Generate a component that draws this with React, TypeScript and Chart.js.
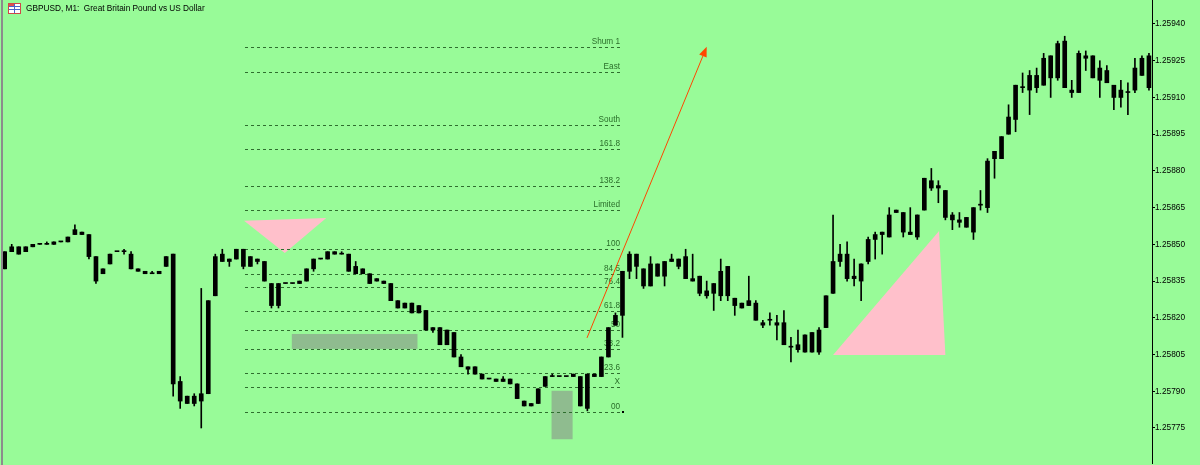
import React, { useEffect, useRef } from 'react';
import { Chart, registerables } from 'chart.js';

Chart.register(...registerables);

const title = 'GBPUSD, M1:  Great Britain Pound vs US Dollar';

const open = [
  1.25840, 1.25847, 1.25849, 1.25847, 1.25849, 1.25850, 1.25850, 1.25850, 1.25851, 1.25851,
  1.25854, 1.25855, 1.25854, 1.25845, 1.25838, 1.25842, 1.25847, 1.25847, 1.25846, 1.25840,
  1.25839, 1.25838, 1.25838, 1.25841, 1.25846, 1.25794, 1.25788, 1.25785, 1.25789, 1.25789,
  1.25829, 1.25843, 1.25844, 1.25844, 1.25848, 1.25841, 1.25844, 1.25843, 1.25834, 1.25825,
  1.25834, 1.25834, 1.25834, 1.25835, 1.25840, 1.25844, 1.25844, 1.25846, 1.25846, 1.25846,
  1.25841, 1.25838, 1.25838, 1.25835, 1.25835, 1.25834, 1.25827, 1.25824, 1.25826, 1.25822,
  1.25823, 1.25815, 1.25816, 1.25809, 1.25814, 1.25804, 1.25800, 1.25800, 1.25797, 1.25795,
  1.25795, 1.25794, 1.25795, 1.25793, 1.25786, 1.25784, 1.25785, 1.25792, 1.25796, 1.25796,
  1.25796, 1.25796, 1.25796, 1.25783, 1.25797, 1.25796, 1.25804, 1.25817, 1.25821, 1.25839,
  1.25846, 1.25840, 1.25833, 1.25842, 1.25837, 1.25843, 1.25844, 1.25845, 1.25836, 1.25837,
  1.25829, 1.25830, 1.25829, 1.25841, 1.25828, 1.25826, 1.25825, 1.25826, 1.25818, 1.25819,
  1.25818, 1.25818, 1.25808, 1.25809, 1.25806, 1.25814, 1.25806, 1.25816, 1.25830, 1.25843,
  1.25846, 1.25836, 1.25835, 1.25843, 1.25852, 1.25854, 1.25853, 1.25863, 1.25863, 1.25855,
  1.25853, 1.25864, 1.25876, 1.25873, 1.25872, 1.25862, 1.25860, 1.25861, 1.25855, 1.25866,
  1.25865, 1.25885, 1.25885, 1.25895, 1.25901, 1.25914, 1.25913, 1.25919, 1.25915, 1.25927,
  1.25918, 1.25933, 1.25913, 1.25912, 1.25927, 1.25927, 1.25922, 1.25916, 1.25915, 1.25910,
  1.25912, 1.25913, 1.25919, 1.25927,
];

const high = [
  1.25847, 1.25850, 1.25849, 1.25849, 1.25850, 1.25850, 1.25851, 1.25851, 1.25851, 1.25853,
  1.25858, 1.25855, 1.25854, 1.25845, 1.25840, 1.25846, 1.25847, 1.25848, 1.25847, 1.25840,
  1.25839, 1.25839, 1.25839, 1.25845, 1.25846, 1.25796, 1.25788, 1.25789, 1.25832, 1.25827,
  1.25846, 1.25848, 1.25844, 1.25848, 1.25848, 1.25845, 1.25844, 1.25843, 1.25834, 1.25834,
  1.25834, 1.25834, 1.25835, 1.25840, 1.25844, 1.25844, 1.25847, 1.25847, 1.25847, 1.25846,
  1.25843, 1.25840, 1.25838, 1.25836, 1.25835, 1.25834, 1.25827, 1.25826, 1.25826, 1.25825,
  1.25823, 1.25816, 1.25816, 1.25815, 1.25814, 1.25805, 1.25800, 1.25800, 1.25797, 1.25795,
  1.25795, 1.25796, 1.25795, 1.25793, 1.25786, 1.25785, 1.25791, 1.25796, 1.25797, 1.25796,
  1.25796, 1.25797, 1.25796, 1.25797, 1.25797, 1.25804, 1.25816, 1.25822, 1.25839, 1.25847,
  1.25846, 1.25840, 1.25845, 1.25842, 1.25843, 1.25846, 1.25844, 1.25848, 1.25846, 1.25837,
  1.25835, 1.25834, 1.25844, 1.25841, 1.25828, 1.25826, 1.25837, 1.25827, 1.25819, 1.25822,
  1.25821, 1.25823, 1.25812, 1.25815, 1.25813, 1.25814, 1.25816, 1.25829, 1.25862, 1.25850,
  1.25851, 1.25844, 1.25842, 1.25853, 1.25855, 1.25855, 1.25865, 1.25864, 1.25863, 1.25865,
  1.25862, 1.25877, 1.25881, 1.25876, 1.25872, 1.25863, 1.25863, 1.25861, 1.25865, 1.25872,
  1.25885, 1.25888, 1.25894, 1.25907, 1.25915, 1.25920, 1.25921, 1.25922, 1.25928, 1.25927,
  1.25933, 1.25935, 1.25917, 1.25929, 1.25929, 1.25927, 1.25925, 1.25923, 1.25915, 1.25917,
  1.25916, 1.25926, 1.25927, 1.25928,
];

const low = [
  1.25840, 1.25847, 1.25846, 1.25847, 1.25849, 1.25850, 1.25850, 1.25850, 1.25851, 1.25851,
  1.25854, 1.25854, 1.25844, 1.25834, 1.25838, 1.25842, 1.25847, 1.25846, 1.25840, 1.25839,
  1.25838, 1.25838, 1.25838, 1.25841, 1.25788, 1.25783, 1.25785, 1.25784, 1.25775, 1.25789,
  1.25829, 1.25843, 1.25841, 1.25844, 1.25840, 1.25841, 1.25842, 1.25835, 1.25824, 1.25824,
  1.25834, 1.25834, 1.25834, 1.25835, 1.25839, 1.25844, 1.25844, 1.25846, 1.25846, 1.25839,
  1.25838, 1.25838, 1.25834, 1.25835, 1.25834, 1.25827, 1.25824, 1.25824, 1.25822, 1.25822,
  1.25815, 1.25814, 1.25809, 1.25809, 1.25804, 1.25800, 1.25797, 1.25797, 1.25795, 1.25795,
  1.25794, 1.25794, 1.25793, 1.25787, 1.25784, 1.25784, 1.25785, 1.25792, 1.25796, 1.25796,
  1.25796, 1.25796, 1.25784, 1.25782, 1.25796, 1.25796, 1.25804, 1.25817, 1.25812, 1.25836,
  1.25836, 1.25832, 1.25833, 1.25837, 1.25833, 1.25843, 1.25840, 1.25836, 1.25835, 1.25829,
  1.25828, 1.25823, 1.25827, 1.25827, 1.25821, 1.25824, 1.25825, 1.25819, 1.25816, 1.25817,
  1.25811, 1.25809, 1.25802, 1.25806, 1.25806, 1.25806, 1.25805, 1.25816, 1.25830, 1.25841,
  1.25835, 1.25833, 1.25827, 1.25842, 1.25844, 1.25846, 1.25853, 1.25863, 1.25853, 1.25854,
  1.25852, 1.25864, 1.25872, 1.25867, 1.25860, 1.25856, 1.25857, 1.25857, 1.25852, 1.25864,
  1.25863, 1.25877, 1.25885, 1.25895, 1.25896, 1.25912, 1.25903, 1.25912, 1.25915, 1.25910,
  1.25917, 1.25914, 1.25910, 1.25912, 1.25921, 1.25918, 1.25910, 1.25916, 1.25905, 1.25906,
  1.25903, 1.25912, 1.25919, 1.25913,
];

const close = [
  1.25847, 1.25849, 1.25846, 1.25849, 1.25850, 1.25850, 1.25850, 1.25851, 1.25851, 1.25853,
  1.25856, 1.25854, 1.25845, 1.25835, 1.25840, 1.25846, 1.25847, 1.25847, 1.25840, 1.25839,
  1.25838, 1.25838, 1.25839, 1.25845, 1.25793, 1.25786, 1.25785, 1.25788, 1.25786, 1.25827,
  1.25845, 1.25846, 1.25843, 1.25848, 1.25841, 1.25845, 1.25843, 1.25835, 1.25825, 1.25834,
  1.25834, 1.25834, 1.25835, 1.25840, 1.25844, 1.25844, 1.25847, 1.25847, 1.25846, 1.25839,
  1.25838, 1.25840, 1.25834, 1.25836, 1.25834, 1.25827, 1.25824, 1.25826, 1.25822, 1.25825,
  1.25815, 1.25816, 1.25809, 1.25815, 1.25804, 1.25800, 1.25799, 1.25797, 1.25795, 1.25795,
  1.25794, 1.25795, 1.25793, 1.25787, 1.25784, 1.25785, 1.25791, 1.25796, 1.25796, 1.25796,
  1.25796, 1.25797, 1.25784, 1.25797, 1.25796, 1.25804, 1.25816, 1.25821, 1.25839, 1.25846,
  1.25841, 1.25833, 1.25842, 1.25837, 1.25843, 1.25844, 1.25841, 1.25836, 1.25835, 1.25830,
  1.25831, 1.25834, 1.25839, 1.25829, 1.25825, 1.25824, 1.25827, 1.25819, 1.25817, 1.25819,
  1.25817, 1.25809, 1.25808, 1.25807, 1.25813, 1.25806, 1.25815, 1.25829, 1.25843, 1.25846,
  1.25836, 1.25837, 1.25842, 1.25852, 1.25854, 1.25855, 1.25862, 1.25864, 1.25855, 1.25854,
  1.25862, 1.25877, 1.25873, 1.25874, 1.25861, 1.25860, 1.25859, 1.25857, 1.25865, 1.25866,
  1.25884, 1.25888, 1.25894, 1.25902, 1.25915, 1.25914, 1.25919, 1.25914, 1.25926, 1.25918,
  1.25932, 1.25914, 1.25912, 1.25928, 1.25926, 1.25918, 1.25917, 1.25921, 1.25910, 1.25913,
  1.25912, 1.25922, 1.25926, 1.25914,
];

const priceTicks = [
  1.25775, 1.2579, 1.25805, 1.2582, 1.25835, 1.2585,
  1.25865, 1.2588, 1.25895, 1.2591, 1.25925, 1.2594,
];

const fibLabels = [
  'Shum 1', 'East', 'South', '161.8', '138.2', 'Limited', '100',
  '84.5', '76.4', '61.8', '50', '38.2', '23.6', 'X', '00',
];
const fibPrices = [
  1.259306, 1.259204, 1.258988, 1.258889, 1.258738, 1.25864, 1.258481,
  1.258379, 1.258324, 1.258228, 1.258152, 1.258073, 1.257976, 1.257919, 1.257817,
];
const fibBars = [34.2, 87.9];

const pinkTriangles = [
  [[34.1, 1.258596], [45.8, 1.258608], [39.9, 1.258465]],
  [[118.0, 1.258048], [133.1, 1.258555], [134.0, 1.258048]],
];
const grayRects = [
  [40.9, 58.8, 1.258134, 1.258073],
  [77.9, 80.9, 1.257902, 1.257704],
];
const arrowPoints = [[82.95, 1.258118], [100.0, 1.259307]];

const BG = '#98fb98';

const overlayPlugin = {
  id: 'mtOverlay',
  beforeDatasetsDraw(chart: any) {
    const { ctx, chartArea: a, scales } = chart;
    const x = scales.x, y = scales.y;
    ctx.save();
    ctx.beginPath();
    ctx.rect(a.left, a.top, a.right - a.left, a.bottom - a.top);
    ctx.clip();
    ctx.fillStyle = '#8fbc8f';
    grayRects.forEach(([b0, b1, p0, p1]) => {
      const x0 = x.getPixelForValue(b0), x1 = x.getPixelForValue(b1);
      const y0 = y.getPixelForValue(p0), y1 = y.getPixelForValue(p1);
      ctx.fillRect(x0, y0, x1 - x0, y1 - y0);
    });
    ctx.fillStyle = '#ffc0cb';
    pinkTriangles.forEach((tri) => {
      ctx.beginPath();
      tri.forEach(([b, p], i) => {
        const px = x.getPixelForValue(b), py = y.getPixelForValue(p);
        if (i === 0) ctx.moveTo(px, py); else ctx.lineTo(px, py);
      });
      ctx.closePath();
      ctx.fill();
    });
    const xs = Math.round(x.getPixelForValue(fibBars[0]));
    const xe = Math.round(x.getPixelForValue(fibBars[1]));
    ctx.lineWidth = 1;
    ctx.strokeStyle = '#2e6e2e';
    ctx.setLineDash([3, 3]);
    ctx.font = '8.2px "Liberation Sans", Arial, sans-serif';
    ctx.textAlign = 'right';
    ctx.textBaseline = 'bottom';
    fibPrices.forEach((p, i) => {
      const py = Math.round(y.getPixelForValue(p)) + 0.5;
      ctx.beginPath();
      ctx.moveTo(xs, py);
      ctx.lineTo(xe, py);
      ctx.stroke();
      ctx.fillStyle = '#2a6e2a';
      ctx.fillText(fibLabels[i], xe - 2, py - 2);
    });
    ctx.setLineDash([]);
    const last = fibPrices[fibPrices.length - 1];
    ctx.fillStyle = '#000';
    ctx.fillRect(xe, Math.round(y.getPixelForValue(last)) - 1, 2, 2);
    ctx.restore();
  },
  afterDatasetsDraw(chart: any) {
    const { ctx, scales } = chart;
    const x = scales.x, y = scales.y;
    const [p0, p1] = arrowPoints;
    const x0 = x.getPixelForValue(p0[0]), y0 = y.getPixelForValue(p0[1]);
    const x1 = x.getPixelForValue(p1[0]), y1 = y.getPixelForValue(p1[1]);
    const ang = Math.atan2(y1 - y0, x1 - x0);
    const len = 10, half = 4;
    const bx = x1 - len * Math.cos(ang), by = y1 - len * Math.sin(ang);
    ctx.save();
    ctx.strokeStyle = '#ff4500';
    ctx.lineWidth = 1;
    ctx.beginPath();
    ctx.moveTo(x0, y0);
    ctx.lineTo(bx, by);
    ctx.stroke();
    ctx.fillStyle = '#ff4500';
    ctx.beginPath();
    ctx.moveTo(x1, y1);
    ctx.lineTo(bx + half * Math.sin(ang), by - half * Math.cos(ang));
    ctx.lineTo(bx - half * Math.sin(ang), by + half * Math.cos(ang));
    ctx.closePath();
    ctx.fill();
    ctx.restore();
  },
  afterDraw(chart: any) {
    const { ctx } = chart;
    ctx.save();
    ctx.fillStyle = '#8c8c8c';
    ctx.fillRect(1, 0, 2, chart.height);
    ctx.fillStyle = '#ffffff';
    ctx.fillRect(9, 4, 11, 9);
    ctx.strokeStyle = '#d04848';
    ctx.lineWidth = 1;
    ctx.strokeRect(8.5, 3.5, 12, 10);
    ctx.strokeStyle = '#4a64c8';
    ctx.beginPath();
    ctx.moveTo(14.5, 4); ctx.lineTo(14.5, 13);
    ctx.moveTo(9, 6.5); ctx.lineTo(20, 6.5);
    ctx.moveTo(9, 9.5); ctx.lineTo(20, 9.5);
    ctx.stroke();
    ctx.fillStyle = '#e05050';
    ctx.fillRect(9, 4, 5, 2);
    ctx.fillStyle = '#000';
    ctx.font = '8px "Liberation Sans", Arial, sans-serif';
    const w = ctx.measureText(title).width;
    const size = 8 * 179 / w;
    ctx.font = `${size.toFixed(2)}px "Liberation Sans", Arial, sans-serif`;
    ctx.textAlign = 'left';
    ctx.textBaseline = 'middle';
    ctx.fillText(title, 26, 9);
    ctx.restore();
  },
};

export default function App() {
  const ref = useRef<HTMLCanvasElement | null>(null);

  useEffect(() => {
    if (!ref.current) return;
    const n = open.length;
    const idx = Array.from({ length: n }, (_, i) => i);
    const bodies = idx.map((i) => ({ x: i, y: [open[i], close[i]] }));
    const wicks = idx.map((i) => ({ x: i, y: [low[i], high[i]] }));
    const firstX = 4.7, step = 7.02, left = 3, right = 1152;

    const chart = new Chart(ref.current, {
      type: 'bar',
      data: {
        datasets: [
          {
            data: wicks as any,
            backgroundColor: '#000',
            borderWidth: 0,
            barThickness: 1,
            grouped: false,
            order: 2,
          } as any,
          {
            data: bodies as any,
            backgroundColor: '#000',
            borderWidth: 0,
            barThickness: 4,
            minBarLength: 1,
            grouped: false,
            order: 1,
          } as any,
        ],
      },
      options: {
        animation: false,
        responsive: true,
        maintainAspectRatio: false,
        devicePixelRatio: 1,
        layout: { padding: { left: 3, right: 0, top: 0, bottom: 2 } },
        plugins: {
          legend: { display: false },
          tooltip: { enabled: false },
          title: { display: false },
        },
        scales: {
          x: {
            type: 'linear',
            display: false,
            offset: false,
            min: (left - firstX) / step,
            max: (right - firstX) / step,
          },
          y: {
            type: 'linear',
            position: 'right',
            beginAtZero: false,
            min: 1.257607,
            max: 1.259498,
            afterBuildTicks: (s: any) => {
              s.ticks = priceTicks.map((v) => ({ value: v }));
            },
            afterFit: (s: any) => {
              s.width = 48;
              s.paddingTop = 0;
              s.paddingBottom = 0;
            },
            grid: {
              drawOnChartArea: false,
              drawTicks: true,
              tickLength: 3,
              color: '#000',
            },
            border: { display: true, color: '#000', width: 1 },
            ticks: {
              color: '#000',
              padding: 0,
              font: { family: '"Liberation Sans", Arial, sans-serif', size: 8.3 },
              callback: (v: any) => Number(v).toFixed(5),
            },
          },
        },
      } as any,
      plugins: [overlayPlugin],
    });
    return () => chart.destroy();
  }, []);

  return (
    <div
      style={{
        position: 'fixed',
        left: 0,
        top: 0,
        width: 1200,
        height: 465,
        background: BG,
      }}
    >
      <canvas ref={ref} />
    </div>
  );
}
